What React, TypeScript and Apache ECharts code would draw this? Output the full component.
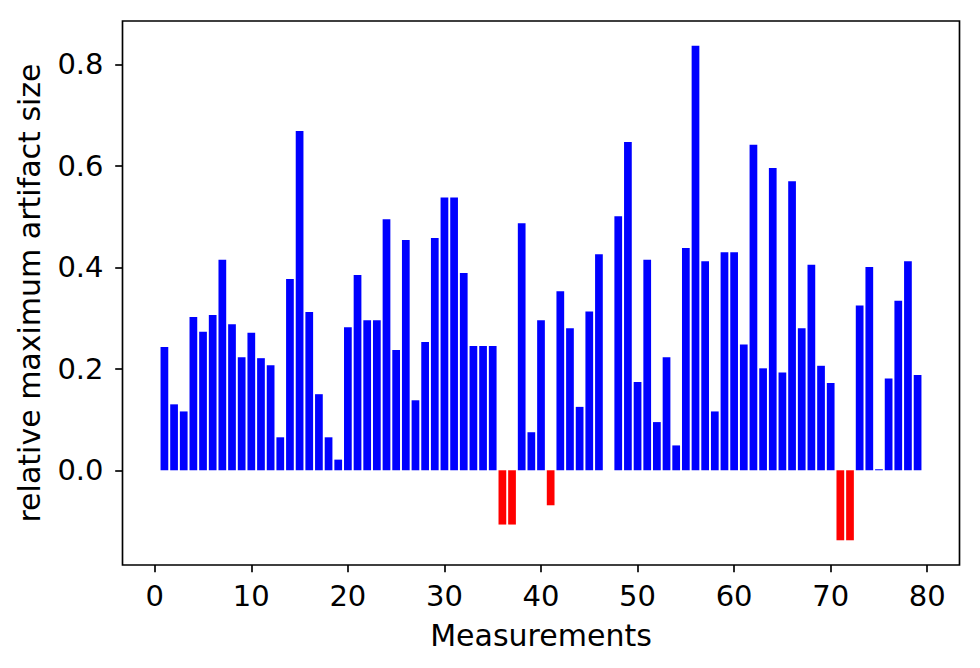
import React, { useEffect, useRef } from "react";
import * as echarts from "echarts";

// Measurement indices 1..79
const measurements: number[] = Array.from({ length: 79 }, (_, i) => i + 1);

const artifactSize: number[] = [
  0.243, 0.130, 0.116, 0.302, 0.273, 0.306, 0.415, 0.288, 0.223, 0.271,
  0.221, 0.207, 0.065, 0.377, 0.669, 0.312, 0.150, 0.065, 0.021, 0.282,
  0.385, 0.296, 0.296, 0.495, 0.237, 0.454, 0.138, 0.253, 0.458, 0.538,
  0.538, 0.389, 0.245, 0.245, 0.245, -0.107, -0.107, 0.487, 0.075, 0.296,
  -0.069, 0.353, 0.280, 0.125, 0.313, 0.426, 0.0, 0.501, 0.647, 0.174,
  0.415, 0.095, 0.223, 0.049, 0.438, 0.837, 0.412, 0.116, 0.430, 0.430,
  0.248, 0.642, 0.201, 0.596, 0.193, 0.570, 0.280, 0.405, 0.206, 0.172,
  -0.138, -0.138, 0.325, 0.401, 0.002, 0.181, 0.334, 0.412, 0.188,
];

const xTicks: number[] = [0, 10, 20, 30, 40, 50, 60, 70, 80];
const yTicks: number[] = [0, 0.2, 0.4, 0.6, 0.8];

const xLabel = "Measurements";
const yLabel = "relative maximum artifact size";

const FONT = "DejaVu Sans";
const FS = 29;
const NAME_FS = 30;

export default function App() {
  const ref = useRef<HTMLDivElement>(null);

  useEffect(() => {
    if (!ref.current) return;
    const chart = echarts.init(ref.current, null, { renderer: "svg" });
    const data = measurements.map((m, i) => [m, artifactSize[i]]);
    const xMin = 0.6 - 0.05 * 78.8;
    const xMax = 79.4 + 0.05 * 78.8;
    const dMin = Math.min(...artifactSize);
    const dMax = Math.max(...artifactSize);
    const yMin = dMin - 0.05 * (dMax - dMin);
    const yMax = dMax + 0.05 * (dMax - dMin);

    chart.setOption({
      animation: false,
      backgroundColor: "#ffffff",
      textStyle: { fontFamily: FONT },
      grid: {
        left: 122.5,
        right: 20.5,
        top: 21,
        bottom: 103,
        show: true,
        borderColor: "#000000",
        borderWidth: 1.67,
        backgroundColor: "transparent",
        containLabel: false,
      },
      xAxis: {
        type: "value",
        min: xMin,
        max: xMax,
        name: xLabel,
        nameLocation: "middle",
        nameGap: 55,
        nameTextStyle: { fontFamily: FONT, fontSize: NAME_FS, color: "#000" },
        axisLine: { show: false, onZero: false },
        axisTick: {
          show: true,
          length: 7.3,
          inside: false,
          lineStyle: { color: "#000", width: 1.67 },
          customValues: xTicks,
        },
        axisLabel: {
          show: true,
          margin: 16,
          fontFamily: FONT,
          fontSize: FS,
          color: "#000",
          customValues: xTicks,
          formatter: (v: number) => String(Math.round(v)),
        },
        splitLine: { show: false },
      },
      yAxis: {
        type: "value",
        min: yMin,
        max: yMax,
        name: yLabel,
        nameLocation: "middle",
        nameGap: 78,
        nameRotate: 90,
        nameTextStyle: { fontFamily: FONT, fontSize: NAME_FS, color: "#000" },
        axisLine: { show: false, onZero: false },
        axisTick: {
          show: true,
          length: 7.3,
          inside: false,
          lineStyle: { color: "#000", width: 1.67 },
          customValues: yTicks,
        },
        axisLabel: {
          show: true,
          margin: 19,
          fontFamily: FONT,
          fontSize: FS,
          color: "#000",
          customValues: yTicks,
          formatter: (v: number) => v.toFixed(1),
        },
        splitLine: { show: false },
      },
      series: [
        {
          type: "custom",
          data,
          encode: { x: 0, y: 1 },
          clip: true,
          renderItem: (params: any, api: any) => {
            const x = api.value(0);
            const v = api.value(1);
            const p1 = api.coord([x - 0.4, Math.max(v, 0)]);
            const p2 = api.coord([x + 0.4, Math.min(v, 0)]);
            return {
              type: "rect",
              shape: {
                x: p1[0],
                y: p1[1],
                width: p2[0] - p1[0],
                height: p2[1] - p1[1],
              },
              style: { fill: v < 0 ? "#ff0000" : "#0000ff" },
            };
          },
        },
      ],
    });

    return () => {
      chart.dispose();
    };
  }, []);

  return (
    <div
      ref={ref}
      style={{ position: "fixed", left: 0, top: 0, width: 980, height: 668, background: "#fff" }}
    />
  );
}
